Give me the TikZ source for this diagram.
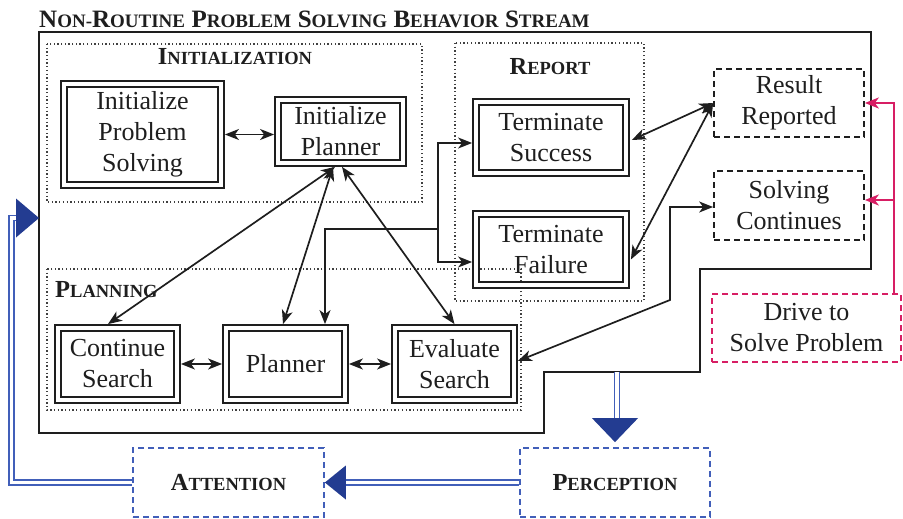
\documentclass[tikz,border=0pt]{standalone}
\usepackage{fontspec}
\setmainfont{Liberation Serif}
\usetikzlibrary{arrows.meta,calc}
\definecolor{ink}{RGB}{30,30,30}
\definecolor{bluel}{RGB}{65,95,185}
\definecolor{navy}{RGB}{35,60,145}
\definecolor{crimson}{RGB}{215,30,100}
% bold small caps built from two sizes
\newcommand{\hsc}[2]{{\bfseries\fontsize{24.5}{26}\selectfont #1\fontsize{18.5}{20}\selectfont #2}}
\newcommand{\tsc}[2]{{\bfseries\fontsize{25}{26}\selectfont #1\fontsize{19}{20}\selectfont #2}}

\begin{document}
\begin{tikzpicture}[x=1pt,y=-1pt,
  every node/.style={font=\fontsize{26}{31}\selectfont, text=ink},
  dbox/.style={draw=ink, double=white, line width=1.9pt, double distance=4pt,
    outer sep=3.9pt, inner sep=0pt, align=center},
  dashbox/.style={draw=#1, line width=1.7pt, dash pattern=on 6pt off 4pt,
    outer sep=0.85pt, inner sep=0pt, align=center},
  grp/.style={draw=ink!85, line width=1.3pt, dash pattern=on 1.3pt off 2.4pt},
  heading/.style={inner sep=0pt},
  arr/.style={draw=ink, line width=1.7pt, {Stealth[length=14pt,width=11pt,inset=4pt]}-{Stealth[length=14pt,width=11pt,inset=4pt]}},
  arrto/.style={draw=ink, line width=1.7pt, -{Stealth[length=14pt,width=11pt,inset=4pt]}},
  pinkarr/.style={draw=crimson, line width=1.7pt, -{Stealth[length=14pt,width=11pt,inset=4pt]}},
  bluedbl/.style={draw=bluel, double=white, line width=1.6pt, double distance=3.6pt},
]
\useasboundingbox (0,0) rectangle (903,519);

% title
\node[heading, anchor=base west] (title) at (39,28)
  {\tsc{N}{ON-}\tsc{R}{OUTINE} \tsc{P}{ROBLEM} \tsc{S}{OLVING} \tsc{B}{EHAVIOR} \tsc{S}{TREAM}};

% stream boundary
\draw[ink, line width=2pt] (39,32) -- (871,32) -- (871,269) -- (700,269) -- (700,372)
  -- (544,372) -- (544,433) -- (39,433) -- cycle;
\coordinate (obL) at (39,218);
\coordinate (obB) at (617,372);

% groups
\draw[grp] (47,44) rectangle (422,202);
\draw[grp] (455,43) rectangle (644,301);
\draw[grp] (47,269) rectangle (521,410);
\node[heading] (hinit) at (235,57) {\hsc{I}{NITIALIZATION}};
\node[heading] (hrep) at (550,67) {\hsc{R}{EPORT}};
\node[heading, anchor=west] (hplan) at (55,290) {\hsc{P}{LANNING}};

% behaviours
\node[dbox, minimum width=157, minimum height=101] (ips) at (142.5,134.5) {Initialize\\Problem\\Solving};
\node[dbox, minimum width=125, minimum height=63] (ip) at (340.5,131.5) {Initialize\\Planner};
\node[dbox, minimum width=150, minimum height=71] (ts) at (551,137.5) {Terminate\\Success};
\node[dbox, minimum width=150, minimum height=71] (tf) at (551,249.5) {Terminate\\Failure};
\node[dbox, minimum width=119, minimum height=72] (cs) at (117.5,364) {Continue\\Search};
\node[dbox, minimum width=119, minimum height=72] (pl) at (285.5,364) {Planner};
\node[dbox, minimum width=119, minimum height=72] (es) at (454.5,364) {Evaluate\\Search};

% outcomes and drive
\node[dashbox=ink, minimum width=150, minimum height=68] (rr) at (789,103) {Result\\Reported};
\node[dashbox=ink, minimum width=150, minimum height=69] (sc) at (789,205.5) {Solving\\Continues};
\node[dashbox=crimson, minimum width=189, minimum height=68] (dr) at (806.5,328) {Drive to\\Solve Problem};

% attention / perception
\node[dashbox=bluel, minimum width=191, minimum height=69] (att) at (228.5,482.5) {\hsc{A}{TTENTION}};
\node[dashbox=bluel, minimum width=190, minimum height=69] (per) at (615,482.5) {\hsc{P}{ERCEPTION}};

% connectors
\draw[arr] (ips.east) -- (ips.east -| ip.west);
\draw[arr] ($(ip.south)+(-5.5,0)$) -- ($(cs.north)+(-9.5,0)$);
\draw[arr] ($(ip.south)+(-7.5,0)$) -- ($(pl.north)+(-2.5,0)$);
\draw[arr] ($(ip.south)+(1.5,0)$) -- (es.north);
\draw[arr] (cs.east) -- (pl.west);
\draw[arr] (pl.east) -- (es.west);

\coordinate (jn) at (438,229);
\draw[arrto] (jn) -| ($(pl.north)+(39.5,0)$);
\draw[arrto] (jn) |- ($(ts.west)+(0,5.5)$);
\draw[arrto] (jn) |- ($(tf.west)+(0,12.5)$);

\draw[arr] ($(ts.east)+(2,2.5)$) -- (rr.west);
\draw[arr] ($(tf.east)+(1,10)$) -- (rr.west);

\coordinate (bend) at (670,300);
\draw[arr] ($(es.east)+(0,-3)$) -- (bend) |- ($(sc.west)+(0,1.5)$);

\coordinate (pj) at (894,200);
\draw[pinkarr] ($(dr.north)+(87.5,0)$) |- (rr.east);
\draw[pinkarr] (pj) -- (pj -| sc.east);

% attention / perception flows
\coordinate (bturn) at (11.5,218);
\draw[bluedbl] (att.west) -| (bturn) -- ($(obL)+(-20,0)$);
\fill[navy] (obL) -- ++(-23,-19.5) -- ++(0,39) -- cycle;

\draw[bluedbl] (per.west) -- ($(att.east)+(19,0)$);
\fill[navy] (att.east) -- ++(21,-17) -- ++(0,34) -- cycle;

\draw[bluedbl] (obB) -- ++(0,50);
\fill[navy] ($(per.north)+(0,-5)$) -- ++(-23,-24) -- ++(46,0) -- cycle;
\end{tikzpicture}
\end{document}
